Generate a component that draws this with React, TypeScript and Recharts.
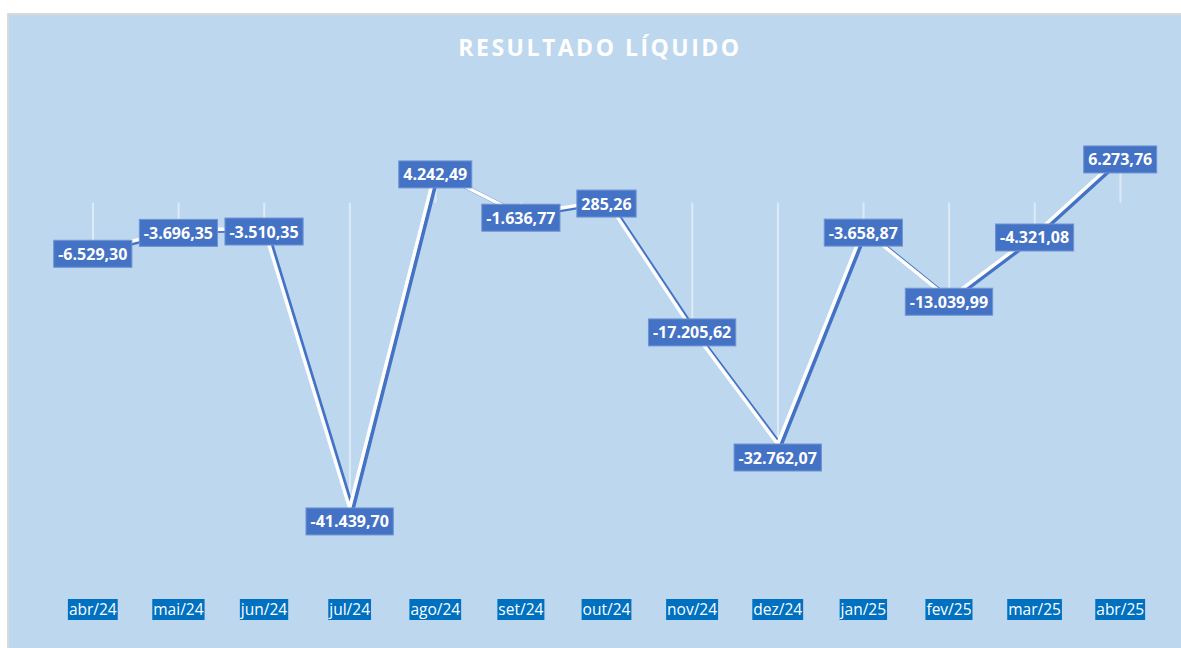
import { ComposedChart, Line, Bar, XAxis, YAxis, LabelList } from 'recharts'

const months = [
  'abr/24', 'mai/24', 'jun/24', 'jul/24', 'ago/24', 'set/24', 'out/24',
  'nov/24', 'dez/24', 'jan/25', 'fev/25', 'mar/25', 'abr/25',
]
const resultado = [
  -6529.3, -3696.35, -3510.35, -41439.7, 4242.49, -1636.77, 285.26,
  -17205.62, -32762.07, -3658.87, -13039.99, -4321.08, 6273.76,
]
const yDomain = [-50000, 10000]
const labelsBelow = ['jul/24', 'dez/24']

const FONT = '"Open Sans", "DejaVu Sans", sans-serif'

const chartData = months.map((m, i) => ({ month: m, valor: resultado[i] }))

const ctx = document.createElement('canvas').getContext('2d')
function textWidth(text: string, font: string) {
  if (!ctx) return text.length * 8
  ctx.font = font
  return ctx.measureText(text).width
}

function fmt(v: number) {
  const [i, d] = Math.abs(v).toFixed(2).split('.')
  const int = i.replace(/\B(?=(\d{3})+(?!\d))/g, '.')
  return (v < 0 ? '-' : '') + int + ',' + d
}

function MonthTick(props: any) {
  const { x, y, payload } = props
  const w = textWidth(payload.value, `15.5px ${FONT}`)
  const top = y + 20
  return (
    <g>
      <rect x={x - w / 2 - 1} y={top} width={w + 2} height={21} fill="#0070C0" />
      <text
        x={x}
        y={top + 16}
        textAnchor="middle"
        fill="#ffffff"
        fontSize={15.5}
        fontFamily={FONT}
      >
        {payload.value}
      </text>
    </g>
  )
}

function ValueLabel(props: any) {
  const { x, y, value, index } = props
  const text = fmt(value)
  const w = textWidth(text, `bold 16px ${FONT}`) + 9
  const h = 27
  const below = labelsBelow.includes(months[index])
  const top = below ? y : y - h / 2 + 3
  return (
    <g>
      <rect
        x={x - w / 2}
        y={top}
        width={w}
        height={h}
        fill="#4472C4"
        stroke="#6F93D3"
        strokeWidth={1}
      />
      <text
        x={x}
        y={top + 19.5}
        textAnchor="middle"
        fill="#ffffff"
        fontSize={16}
        fontWeight="bold"
        fontFamily={FONT}
      >
        {text}
      </text>
    </g>
  )
}

export default function App() {
  return (
    <div style={{ position: 'absolute', left: 0, top: 0, width: 1181, height: 648, background: '#ffffff' }}>
      <style>{`.line-shadow path { transform: translate(3px, 1.5px); }`}</style>
      <div
        style={{
          position: 'absolute',
          left: 7,
          top: 13,
          width: 1174,
          height: 635,
          background: '#BDD7EE',
          borderLeft: '2px solid #D9D9D9',
          borderTop: '2px solid #D9D9D9',
          boxSizing: 'border-box',
        }}
      />
      <div
        style={{
          position: 'absolute',
          left: 0,
          top: 31,
          width: 1200,
          textAlign: 'center',
          color: '#ffffff',
          fontFamily: FONT,
          fontWeight: 'bold',
          fontSize: 23,
          letterSpacing: 2.5,
        }}
      >
        RESULTADO LÍQUIDO
      </div>
      <div style={{ position: 'absolute', left: 0, top: 0 }}>
        <ComposedChart
          width={1181}
          height={648}
          data={chartData}
          margin={{ top: 129, right: 18, bottom: 27, left: 50 }}
        >
          <XAxis
            dataKey="month"
            axisLine={false}
            tickLine={false}
            height={50}
            interval={0}
            tick={<MonthTick />}
          />
          <YAxis hide domain={yDomain} type="number" />
          <Bar
            dataKey="valor"
            barSize={2}
            fill="#ffffff"
            fillOpacity={0.5}
            isAnimationActive={false}
          />
          <Line
            dataKey="valor"
            className="line-shadow"
            stroke="#4472C4"
            strokeWidth={4}
            dot={false}
            activeDot={false}
            isAnimationActive={false}
          />
          <Line
            dataKey="valor"
            stroke="#ffffff"
            strokeWidth={3.5}
            dot={false}
            activeDot={false}
            isAnimationActive={false}
          >
            <LabelList dataKey="valor" content={<ValueLabel />} />
          </Line>
        </ComposedChart>
      </div>
    </div>
  )
}
